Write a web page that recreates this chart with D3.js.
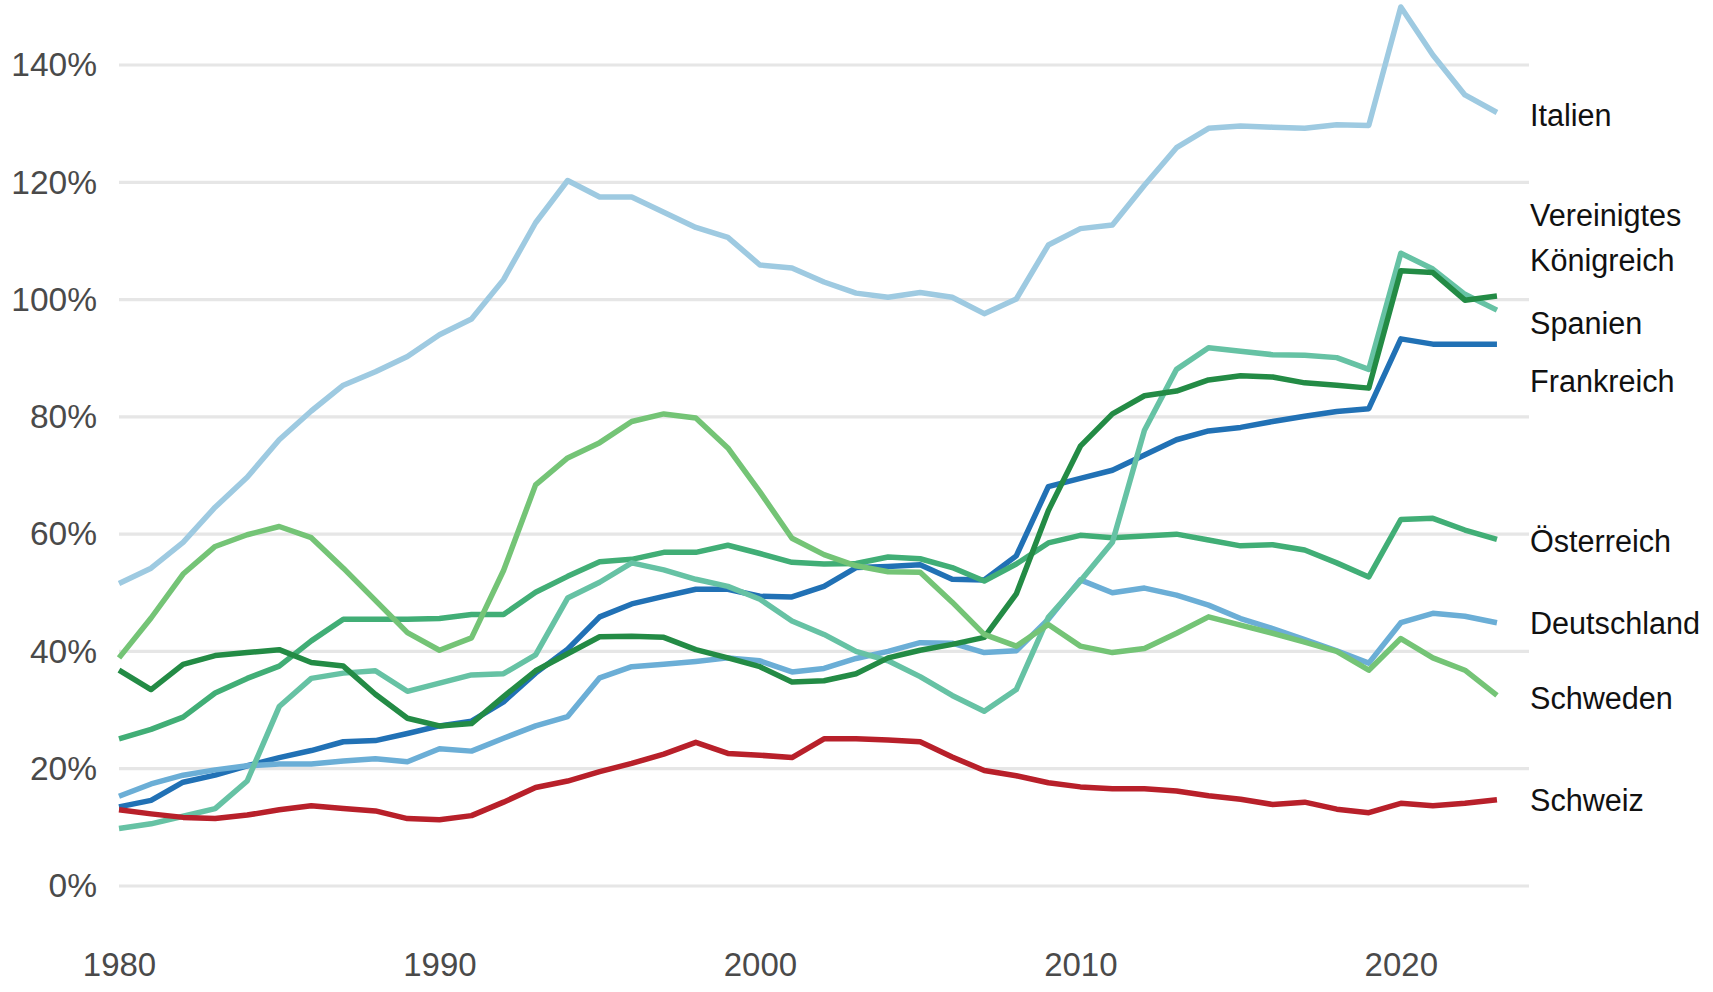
<!DOCTYPE html>
<html>
<head>
<meta charset="utf-8">
<script src="https://cdn.jsdelivr.net/npm/d3@7"></script>
<style>
  body { margin: 0; background: #fff; }
  text { font-family: "Liberation Sans", Arial, sans-serif; }
</style>
</head>
<body>
<svg id="chart"></svg>
<script>
// Staatsverschuldung in % des BIP, 1980-2023
var years = d3.range(1980, 2024);

var italien = [51.6, 54.2, 58.6, 64.6, 69.7, 76.1, 81.0, 85.4, 87.7, 90.3,
  94.0, 96.7, 103.4, 113.1, 120.3, 117.5, 117.5, 114.9, 112.3, 110.6,
  105.9, 105.4, 103.0, 101.1, 100.4, 101.2, 100.4, 97.6, 100.1, 109.3,
  112.1, 112.7, 119.5, 125.9, 129.2, 129.6, 129.4, 129.2, 129.8, 129.7,
  149.9, 141.7, 134.9, 131.9];
var vereinigtesKoenigreich = [9.8, 10.6, 11.9, 13.2, 17.9, 30.6, 35.4, 36.3, 36.7, 33.2,
  34.6, 36.0, 36.2, 39.4, 49.1, 51.8, 55.1, 53.9, 52.3, 51.1,
  48.9, 45.2, 42.9, 40.0, 38.4, 35.7, 32.5, 29.8, 33.5, 45.8,
  52.0, 58.6, 77.7, 88.1, 91.8, 91.2, 90.6, 90.5, 90.1, 88.1,
  107.9, 105.2, 100.9, 98.2];
var spanien = [36.8, 33.5, 37.8, 39.3, 39.8, 40.3, 38.1, 37.5, 32.7, 28.6,
  27.3, 27.7, 32.3, 36.7, 39.6, 42.5, 42.6, 42.4, 40.3, 38.9,
  37.4, 34.8, 35.0, 36.2, 38.9, 40.2, 41.2, 42.4, 49.8, 64.0,
  75.0, 80.5, 83.6, 84.4, 86.3, 87.0, 86.8, 85.8, 85.4, 84.9,
  104.9, 104.6, 99.9, 100.6];
var frankreich = [13.5, 14.6, 17.7, 18.9, 20.5, 21.9, 23.1, 24.6, 24.8, 26.0,
  27.3, 28.1, 31.4, 36.3, 40.4, 45.9, 48.1, 49.4, 50.6, 50.6,
  49.4, 49.3, 51.1, 54.3, 54.5, 54.8, 52.3, 52.2, 56.3, 68.1,
  69.5, 70.9, 73.5, 76.1, 77.6, 78.2, 79.2, 80.1, 80.9, 81.4,
  93.3, 92.4, 92.4, 92.4];
var oesterreich = [25.1, 26.7, 28.8, 32.9, 35.4, 37.5, 41.8, 45.5, 45.5, 45.5,
  45.6, 46.3, 46.3, 50.1, 52.8, 55.3, 55.7, 56.9, 56.9, 58.1,
  56.7, 55.2, 54.9, 55.0, 56.1, 55.8, 54.3, 52.0, 54.9, 58.5,
  59.8, 59.4, 59.7, 60.0, 59.0, 58.0, 58.2, 57.3, 55.1, 52.7,
  62.5, 62.7, 60.7, 59.1];
var deutschland = [15.3, 17.4, 18.9, 19.8, 20.5, 20.8, 20.8, 21.3, 21.7, 21.2,
  23.4, 23.0, 25.2, 27.3, 28.9, 35.5, 37.4, 37.8, 38.3, 38.9,
  38.4, 36.5, 37.1, 38.8, 40.0, 41.5, 41.4, 39.8, 40.1, 45.5,
  52.2, 50.0, 50.8, 49.6, 47.9, 45.6, 43.9, 42.0, 40.1, 38.0,
  44.9, 46.5, 46.0, 44.9];
var schweden = [38.9, 45.7, 53.2, 57.9, 59.9, 61.3, 59.4, 54.2, 48.7, 43.2,
  40.2, 42.3, 53.8, 68.4, 73.0, 75.6, 79.2, 80.5, 79.8, 74.7,
  67.2, 59.3, 56.5, 54.6, 53.6, 53.5, 48.4, 42.9, 40.9, 44.6,
  40.9, 39.8, 40.5, 43.1, 45.9, 44.5, 43.1, 41.6, 40.0, 36.8,
  42.2, 38.9, 36.8, 32.5];
var schweiz = [13.0, 12.3, 11.7, 11.5, 12.1, 13.0, 13.7, 13.2, 12.8, 11.5,
  11.3, 12.0, 14.3, 16.8, 17.9, 19.5, 20.9, 22.5, 24.5, 22.6,
  22.3, 21.9, 25.1, 25.1, 24.9, 24.6, 22.0, 19.7, 18.8, 17.6,
  16.9, 16.6, 16.6, 16.2, 15.4, 14.8, 13.9, 14.3, 13.1, 12.5,
  14.1, 13.7, 14.1, 14.7];

var yTicks = [0, 20, 40, 60, 80, 100, 120, 140];
var xTicks = [1980, 1990, 2000, 2010, 2020];

// drawing order: first = bottom
var series = [
  {name: ["Frankreich"], values: frankreich, color: "#2171b5"},
  {name: ["Deutschland"], values: deutschland, color: "#6baed6"},
  {name: ["Italien"], values: italien, color: "#9ecae1"},
  {name: ["Österreich"], values: oesterreich, color: "#41ae76"},
  {name: ["Vereinigtes", "Königreich"], values: vereinigtesKoenigreich, color: "#66c2a4"},
  {name: ["Spanien"], values: spanien, color: "#238b45"},
  {name: ["Schweden"], values: schweden, color: "#74c476"},
  {name: ["Schweiz"], values: schweiz, color: "#b8202a"}
];

// labels pushed apart where the line ends crowd together (pixels)
var labelShift = {"Italien": 3, "Vereinigtes": -72, "Spanien": 27, "Frankreich": 37,
  "Österreich": 2, "Deutschland": 1, "Schweden": 3, "Schweiz": 0};

var w = 1713, h = 992;
var svg = d3.select("#chart")
    .attr("width", w)
    .attr("height", h);

var x = d3.scaleLinear().domain([1980, 2024]).range([119, 1529]);
var y = d3.scaleLinear().domain([0, 140]).range([886, 65]);

// gridlines
svg.append("g").selectAll("line")
.data(yTicks)
.enter()
.append("line")
    .attr("x1", x(1980))
    .attr("x2", x(2024))
    .attr("y1", function(d){return y(d);})
    .attr("y2", function(d){return y(d);})
    .attr("stroke", "#e6e6e6")
    .attr("stroke-width", 3.2);

var yAxis = svg.append("g")
    .attr("transform", `translate(${x(1980)}, 0)`)
    .call(d3.axisLeft(y).tickValues(yTicks).tickSize(0).tickPadding(22)
        .tickFormat(function(d){return d + "%";}));
yAxis.select(".domain").remove();
yAxis.selectAll("text")
    .attr("font-size", 33.5)
    .attr("font-family", "Liberation Sans, Arial, sans-serif")
    .attr("fill", "#4a4a4a");

var xAxis = svg.append("g")
    .attr("transform", `translate(0, ${y(0)})`)
    .call(d3.axisBottom(x).tickValues(xTicks).tickSize(0).tickPadding(67)
        .tickFormat(d3.format("d")));
xAxis.select(".domain").remove();
xAxis.selectAll("text")
    .attr("font-size", 33)
    .attr("font-family", "Liberation Sans, Arial, sans-serif")
    .attr("fill", "#4a4a4a");

var line = d3.line()
    .x(function(d, i){return x(years[i]);})
    .y(function(d){return y(d);});

svg.append("g").selectAll("path")
.data(series)
.enter()
.append("path")
    .attr("d", function(d){return line(d.values);})
    .attr("fill", "none")
    .attr("stroke", function(d){return d.color;})
    .attr("stroke-width", 5.5)
    .attr("stroke-linejoin", "round");

// end labels
var labels = svg.append("g").selectAll("text")
.data(series)
.enter()
.append("text")
    .attr("font-size", 30.6)
    .attr("fill", "#111");

labels.each(function(d){
  var last = d.values[d.values.length - 1];
  var cy = y(last) + labelShift[d.name[0]];
  var n = d.name.length;
  d3.select(this).selectAll("tspan")
  .data(d.name)
  .enter()
  .append("tspan")
      .attr("x", x(2024) + 1)
      .attr("y", function(t, i){return cy + (i - (n - 1) / 2) * 45;})
      .attr("dy", "0.35em")
      .text(function(t){return t;});
});
</script>
</body>
</html>
